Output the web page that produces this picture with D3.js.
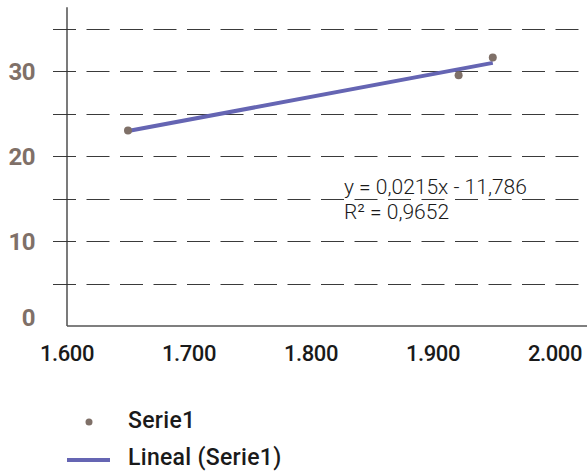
<!DOCTYPE html>
<html>
<head>
<meta charset="utf-8">
<script src="https://cdn.jsdelivr.net/npm/d3@7"></script>
<style>
  body { margin: 0; background: #fff; }
  svg { display: block; font-family: Roboto, sans-serif; }
</style>
</head>
<body>
<div id="chart"></div>
<script>
// data
const xValues = [1650, 1921, 1949];
const yValues = [23.0, 29.5, 31.6];
const xTicks = [1600, 1700, 1800, 1900, 2000];
const yTicks = [0, 10, 20, 30];
const gridValues = [5, 10, 15, 20, 25, 30, 35];
const seriesNames = ['Serie1', 'Lineal (Serie1)'];
const equationLines = ['y = 0,0215x - 11,786', 'R² = 0,9652'];

const width = 587, height = 473;
const pointColor = '#7f7068';
const lineColor = '#6565b3';

const svg = d3.select('#chart').append('svg')
  .attr('width', width)
  .attr('height', height);

const x = d3.scaleLinear().domain([1600, 2000]).range([67, 555]);
const y = d3.scaleLinear().domain([0, 35]).range([326, 28.5]);

const locale = d3.formatLocale({ decimal: ',', thousands: '.', grouping: [3], currency: ['', ''] });
const fmt = locale.format(',');

// dashed gridlines
svg.append('g')
  .selectAll('line')
  .data(gridValues)
  .join('line')
  .attr('x1', 53)
  .attr('x2', width)
  .attr('y1', d => Math.round(y(d)) + 0.5)
  .attr('y2', d => Math.round(y(d)) + 0.5)
  .attr('stroke', '#3a3a3a')
  .attr('stroke-width', 1)
  .attr('stroke-dasharray', '23,10.5');

// axes lines
svg.append('line')
  .attr('x1', x(1600)).attr('x2', x(1600))
  .attr('y1', y(37.5)).attr('y2', y(0))
  .attr('stroke', '#333').attr('stroke-width', 1.3);
svg.append('line')
  .attr('x1', x(1600)).attr('x2', width)
  .attr('y1', y(0)).attr('y2', y(0))
  .attr('stroke', '#555').attr('stroke-width', 1.3);

// y labels
svg.append('g')
  .selectAll('text')
  .data(yTicks)
  .join('text')
  .attr('x', 35)
  .attr('y', d => y(d) + (d === 0 ? -9 : 0))
  .attr('dy', '0.36em')
  .attr('text-anchor', 'end')
  .attr('font-size', 24)
  .attr('font-weight', 700)
  .attr('letter-spacing', -0.5)
  .attr('fill', '#7f7068')
  .text(d => d);

// x labels
svg.append('g')
  .selectAll('text')
  .data(xTicks)
  .join('text')
  .attr('x', d => x(d))
  .attr('y', 353)
  .attr('dy', '0.36em')
  .attr('text-anchor', 'middle')
  .attr('font-size', 22)
  .attr('font-weight', 500)
  .attr('letter-spacing', -0.4)
  .attr('fill', '#1a1a1a')
  .text(d => fmt(d));

// least squares trend line
const mx = d3.mean(xValues), my = d3.mean(yValues);
const slope = d3.sum(xValues, (v, i) => (v - mx) * (yValues[i] - my)) /
  d3.sum(xValues, v => (v - mx) * (v - mx));
const icpt = my - slope * mx;
const x0 = d3.min(xValues), x1 = d3.max(xValues);

svg.append('line')
  .attr('x1', x(x0)).attr('y1', y(slope * x0 + icpt))
  .attr('x2', x(x1)).attr('y2', y(slope * x1 + icpt))
  .attr('stroke', lineColor)
  .attr('stroke-width', 4);

// points
svg.append('g')
  .selectAll('circle')
  .data(xValues.map((v, i) => [v, yValues[i]]))
  .join('circle')
  .attr('cx', d => x(d[0]))
  .attr('cy', d => y(d[1]))
  .attr('r', 4)
  .attr('fill', pointColor);

// equation
svg.append('g')
  .selectAll('text')
  .data(equationLines)
  .join('text')
  .attr('x', 344)
  .attr('y', (d, i) => 194 + i * 25)
  .attr('font-size', 21)
  .attr('font-weight', 300)
  .attr('fill', '#1a1a1a')
  .text(d => d);

// legend
const legend = svg.append('g');
legend.append('circle')
  .attr('cx', 89).attr('cy', 422).attr('r', 3.5)
  .attr('fill', pointColor);
legend.append('line')
  .attr('x1', 67).attr('x2', 110)
  .attr('y1', 460).attr('y2', 460)
  .attr('stroke', lineColor).attr('stroke-width', 4);
legend.selectAll('text')
  .data(seriesNames)
  .join('text')
  .attr('x', 128)
  .attr('y', (d, i) => 428 + i * 37)
  .attr('font-size', 23)
  .attr('font-weight', 500)
  .attr('letter-spacing', 0.3)
  .attr('fill', '#1a1a1a')
  .text(d => d);
</script>
</body>
</html>
